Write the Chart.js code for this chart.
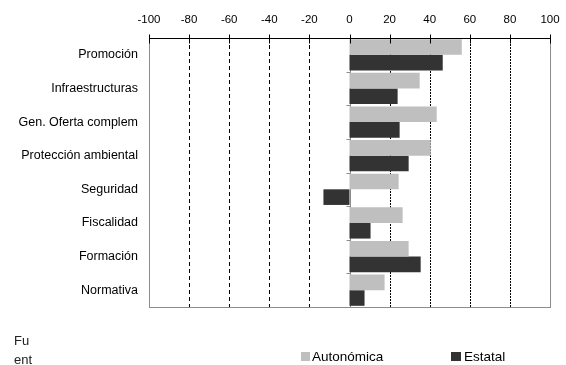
<!DOCTYPE html>
<html>
<head>
<meta charset="utf-8">
<script src="https://cdn.jsdelivr.net/npm/chart.js@4/dist/chart.umd.min.js"></script>
<style>
html,body{margin:0;padding:0;background:#fff;}
#wrap{position:relative;width:566px;height:365px;}
</style>
</head>
<body>
<div id="wrap"><canvas id="c" width="566" height="365"></canvas></div>
<script>
const categories = ['Promoción','Infraestructuras','Gen. Oferta complem','Protección ambiental','Seguridad','Fiscalidad','Formación','Normativa'];
const autonomica = [56, 35, 43.5, 40.5, 24.5, 26.5, 29.5, 17.5];
const estatal = [46.5, 24, 25, 29.5, -13, 10.5, 35.5, 7.5];
const seriesNames = ['Autonómica', 'Estatal'];
const xTicks = [-100, -80, -60, -40, -20, 0, 20, 40, 60, 80, 100];
const sourceLines = ['Fu', 'ent'];

const FONT = "'Liberation Sans', Arial, sans-serif";
const LIGHT = '#bfbfbf';
const DARK = '#333333';

const decor = {
  id: 'decor',
  beforeDatasetsDraw(chart) {
    const ctx = chart.ctx;
    const x = chart.scales.x;
    const a = chart.chartArea;
    ctx.save();
    ctx.lineWidth = 1;
    xTicks.forEach(v => {
      const px = Math.round(x.getPixelForValue(v)) + 0.5;
      ctx.beginPath();
      if (v === -100 || v === 100 || v === 0) {
        ctx.setLineDash([]);
        ctx.strokeStyle = '#8c8c8c';
      } else if (v < 0) {
        ctx.setLineDash([4, 3]);
        ctx.strokeStyle = '#000';
      } else {
        ctx.setLineDash([2, 1]);
        ctx.strokeStyle = '#000';
      }
      ctx.moveTo(px, a.top);
      ctx.lineTo(px, a.bottom);
      ctx.stroke();
    });
    ctx.setLineDash([]);
    ctx.strokeStyle = '#8c8c8c';
    ctx.beginPath();
    ctx.moveTo(a.left, Math.round(a.bottom) + 0.5);
    ctx.lineTo(a.right + 1, Math.round(a.bottom) + 0.5);
    ctx.stroke();
    const zx = Math.round(x.getPixelForValue(0)) + 0.5;
    for (let i = 0; i <= categories.length; i++) {
      const py = Math.round(a.top + (a.bottom - a.top) * i / categories.length) + 0.5;
      ctx.beginPath();
      ctx.moveTo(zx - 4, py);
      ctx.lineTo(zx, py);
      ctx.stroke();
    }
    ctx.restore();
  },
  afterDraw(chart) {
    const ctx = chart.ctx;
    const x = chart.scales.x;
    const a = chart.chartArea;
    ctx.save();
    ctx.strokeStyle = '#000';
    ctx.lineWidth = 1;
    const ty = Math.round(a.top) + 0.5;
    ctx.beginPath();
    ctx.moveTo(a.left, ty);
    ctx.lineTo(a.right + 1, ty);
    ctx.stroke();
    xTicks.forEach(v => {
      const px = Math.round(x.getPixelForValue(v)) + 0.5;
      ctx.beginPath();
      ctx.moveTo(px, ty - 4);
      ctx.lineTo(px, ty + 5);
      ctx.stroke();
    });
    ctx.font = '13.5px ' + FONT;
    ctx.textBaseline = 'middle';
    ctx.textAlign = 'left';
    ctx.fillStyle = LIGHT;
    ctx.fillRect(301, 352, 9, 9);
    ctx.fillStyle = '#000';
    ctx.fillText(seriesNames[0], 312, 357);
    ctx.fillStyle = DARK;
    ctx.fillRect(451, 352, 10, 9);
    ctx.fillStyle = '#000';
    ctx.fillText(seriesNames[1], 464, 357);
    ctx.font = '13px ' + FONT;
    ctx.fillStyle = '#222';
    ctx.fillText(sourceLines[0], 14, 341);
    ctx.fillText(sourceLines[1], 14, 360);
    ctx.restore();
  }
};

new Chart(document.getElementById('c'), {
  type: 'bar',
  data: {
    labels: categories,
    datasets: [
      { label: seriesNames[0], data: autonomica, backgroundColor: LIGHT, borderWidth: 0, categoryPercentage: 0.93, barPercentage: 1.0 },
      { label: seriesNames[1], data: estatal, backgroundColor: DARK, borderWidth: 0, categoryPercentage: 0.93, barPercentage: 1.0 }
    ]
  },
  options: {
    indexAxis: 'y',
    responsive: false,
    animation: false,
    devicePixelRatio: 1,
    layout: { padding: { left: 0, right: 16, top: 0, bottom: 58 } },
    plugins: { legend: { display: false }, tooltip: { enabled: false }, title: { display: false } },
    scales: {
      x: {
        position: 'top',
        min: -100, max: 100,
        afterBuildTicks(scale) { scale.ticks = xTicks.map(v => ({ value: v })); },
        ticks: { color: '#000', font: { family: FONT, size: 11.5 }, padding: 11, maxRotation: 0, autoSkip: false },
        grid: { display: false, drawTicks: false },
        border: { display: false },
        afterFit(scale) { scale.height = 38; scale.paddingLeft = 0; scale.paddingRight = 0; }
      },
      y: {
        ticks: { color: '#000', font: { family: FONT, size: 12.5 }, padding: 11 },
        grid: { display: false, drawTicks: false },
        border: { display: false },
        afterFit(scale) { scale.width = 149; }
      }
    }
  },
  plugins: [decor]
});
</script>
</body>
</html>
